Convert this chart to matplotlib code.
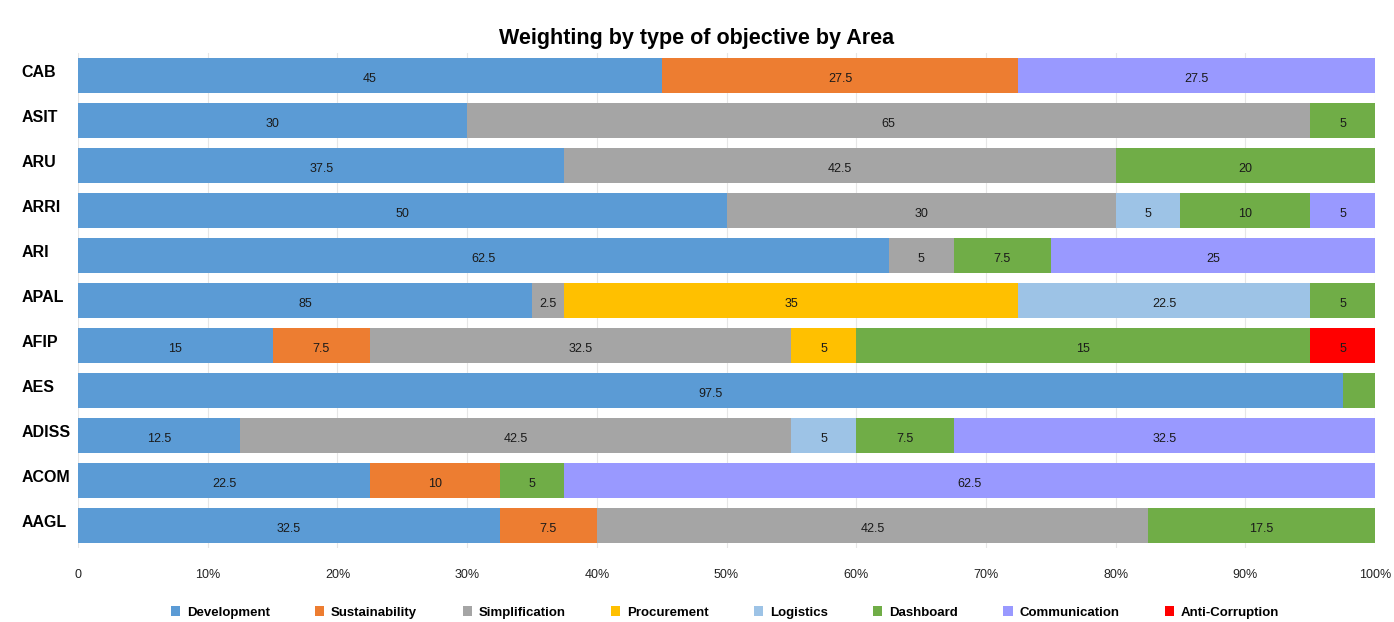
import matplotlib
matplotlib.use("Agg")
import matplotlib.pyplot as plt
import matplotlib.transforms as mtrans
import numpy as np

plt.rcParams['font.family'] = ['Liberation Sans', 'DejaVu Sans']

title = "Weighting by type of objective by Area"
areas = ["CAB", "ASIT", "ARU", "ARRI", "ARI", "APAL", "AFIP", "AES", "ADISS", "ACOM", "AAGL"]
series_names = ["Development", "Sustainability", "Simplification", "Procurement",
                "Logistics", "Dashboard", "Communication", "Anti-Corruption"]
colors = ["#5B9BD5", "#ED7D31", "#A5A5A5", "#FFC000",
          "#9DC3E6", "#70AD47", "#9999FF", "#FF0000"]

development     = [45, 30, 37.5, 50, 62.5, 35, 15, 97.5, 12.5, 22.5, 32.5]
sustainability  = [27.5, 0, 0, 0, 0, 0, 7.5, 0, 0, 10, 7.5]
simplification  = [0, 65, 42.5, 30, 5, 2.5, 32.5, 0, 42.5, 0, 42.5]
procurement     = [0, 0, 0, 0, 0, 35, 5, 0, 0, 0, 0]
logistics       = [0, 0, 0, 5, 0, 22.5, 0, 0, 5, 0, 0]
dashboard       = [0, 5, 20, 10, 7.5, 5, 35, 2.5, 7.5, 5, 17.5]
communication   = [27.5, 0, 0, 5, 25, 0, 0, 0, 32.5, 62.5, 0]
anti_corruption = [0, 0, 0, 0, 0, 0, 5, 0, 0, 0, 0]

# label text as printed on the original chart, where it differs from the value
label_override = {("APAL", "Development"): "85",
                  ("AFIP", "Dashboard"): "15",
                  ("AES", "Dashboard"): ""}

tick_values = [0, 10, 20, 30, 40, 50, 60, 70, 80, 90, 100]
tick_labels = ["0", "10%", "20%", "30%", "40%", "50%", "60%", "70%", "80%", "90%", "100%"]

all_series = [development, sustainability, simplification, procurement,
              logistics, dashboard, communication, anti_corruption]

fig = plt.figure(figsize=(13.94, 6.22), dpi=100)
ax = fig.add_axes([0.0560, 0.1190, 0.9304, 0.7958])

data = np.array(all_series, dtype=float)
totals = data.sum(axis=0)
pct = data / totals * 100
y = np.arange(len(areas))
left = np.zeros(len(areas))
for s, name in enumerate(series_names):
    ax.barh(y, pct[s], left=left, height=0.78, color=colors[s],
            label=name, zorder=2, linewidth=0)
    for i, area in enumerate(areas):
        v = data[s, i]
        if v > 0:
            txt = label_override.get((area, name), f"{v:g}")
            if txt:
                ax.text(left[i] + pct[s, i] / 2, y[i] + 0.07, txt,
                        ha="center", va="center", fontsize=9, color="#1a1a1a",
                        zorder=3)
    left += pct[s]

ax.set_xlim(0, 100)
ax.set_ylim(len(areas) - 0.5, -0.5)
ax.set_xticks(tick_values)
ax.set_xticklabels(tick_labels, fontsize=9, color="#222222")
ax.tick_params(axis="x", length=0, pad=15)
ax.set_yticks(y)
ax.set_yticklabels(areas, fontsize=11.5, fontweight="bold", ha="left")
ax.tick_params(axis="y", length=0, pad=41)
shift = mtrans.ScaledTranslation(0, 4 / 100, fig.dpi_scale_trans)
for lbl in ax.get_yticklabels():
    lbl.set_transform(lbl.get_transform() + shift)
for sp in ax.spines.values():
    sp.set_visible(False)
ax.grid(axis="x", color="#e6e6e6", linewidth=0.8, zorder=0)
ax.set_axisbelow(True)

fig.text(0.5, 0.938, title, ha="center", va="center", fontsize=15.5, fontweight="bold")

leg = fig.legend(loc="center", bbox_to_anchor=(0.52, 0.016), ncol=8, frameon=False,
                 prop={"size": 9.5, "weight": "bold"}, handlelength=0.7,
                 handleheight=0.9, handletextpad=0.5, columnspacing=3.45)

fig.savefig("out.png", dpi=100, facecolor="white")
